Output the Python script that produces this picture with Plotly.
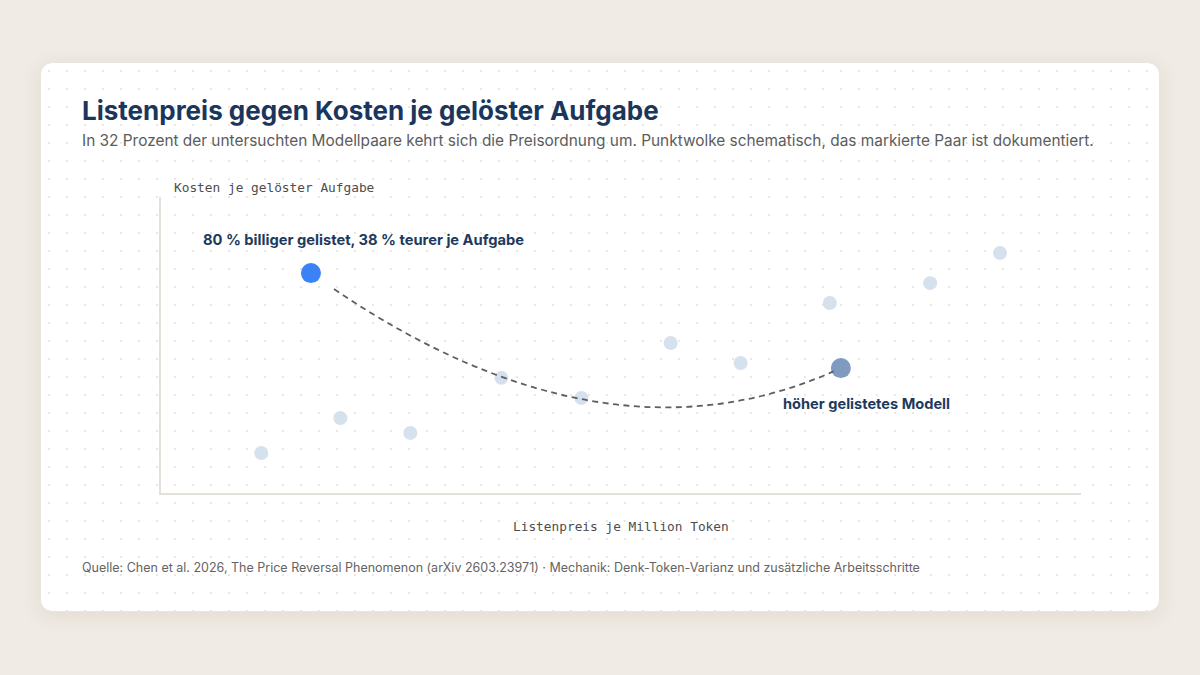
import base64
import plotly.graph_objects as go

# Punktwolke (schematisch): Listenpreis vs. Kosten je gelöster Aufgabe, 0..100 skaliert
price = [10.9, 19.5, 27.1, 37.0, 45.7, 55.4, 63.0, 72.7, 83.6, 91.2]
cost = [13.5, 25.3, 20.3, 38.9, 32.1, 50.7, 43.9, 64.2, 70.9, 81.1]

# dokumentiertes Paar: billiger gelistet / höher gelistet
pair_price = [16.3, 73.9]
pair_cost = [74.3, 42.2]
pair_colors = ["#3b82f6", "#7f9cc0"]
pair_labels = ["80 % billiger gelistet, 38 % teurer je Aufgabe", "höher gelistetes Modell"]

title = "Listenpreis gegen Kosten je gelöster Aufgabe"
subtitle = ("In 32 Prozent der untersuchten Modellpaare kehrt sich die Preisordnung um. "
            "Punktwolke schematisch, das markierte Paar ist dokumentiert.")
x_title = "Listenpreis je Million Token"
y_title = "Kosten je gelöster Aufgabe"
source = ("Quelle: Chen et al. 2026, The Price Reversal Phenomenon (arXiv 2603.23971) · "
          "Mechanik: Denk-Token-Varianz und zusätzliche Arbeitsschritte")

W, H = 1200, 675
L, R, T, B = 161, 1081, 197, 493   # Plotfläche in Pixeln
SANS = "Inter, 'Noto Sans', sans-serif"
MONO = "'DejaVu Sans Mono', monospace"

# Hintergrund: Seite, Karte mit Schatten, Punktraster
bg_svg = f"""<svg xmlns='http://www.w3.org/2000/svg' width='{W}' height='{H}' viewBox='0 0 {W} {H}'>
<defs>
<filter id='sh' x='-10%' y='-10%' width='120%' height='130%'>
<feDropShadow dx='0' dy='4' stdDeviation='9' flood-color='#5a4a30' flood-opacity='0.10'/>
</filter>
<pattern id='dots' x='40' y='62' width='18' height='18' patternUnits='userSpaceOnUse'>
<circle cx='9' cy='9' r='1.1' fill='#e5e2dc'/>
</pattern>
</defs>
<rect width='{W}' height='{H}' fill='#f0ebe4'/>
<rect x='40.5' y='62.5' width='1119' height='549' rx='12' fill='#ffffff' stroke='#e9e5de' filter='url(#sh)'/>
<rect x='41' y='63' width='1118' height='548' rx='12' fill='url(#dots)'/>
</svg>"""
bg_uri = "data:image/svg+xml;base64," + base64.b64encode(bg_svg.encode()).decode()

fig = go.Figure()

fig.add_trace(go.Scatter(
    x=price, y=cost, mode="markers",
    marker=dict(size=14, color="#d6e1ee"),
    hoverinfo="skip", showlegend=False,
))


# gestrichelte Verbindung als quadratische Bezierkurve, an den Enden etwas gekürzt
def blossom(p0, p1, p2, a, b):
    return ((1 - a) * (1 - b) * p0 + ((1 - a) * b + a * (1 - b)) * p1 + a * b * p2)


ctrl = (47.7, 4.4)
t0, t1 = 0.04, 0.985
pts = []
for a, b in [(t0, t0), (t0, t1), (t1, t1)]:
    pts.append((blossom(pair_price[0], ctrl[0], pair_price[1], a, b),
                blossom(pair_cost[0], ctrl[1], pair_cost[1], a, b)))
path = "M {:.3f},{:.3f} Q {:.3f},{:.3f} {:.3f},{:.3f}".format(*pts[0], *pts[1], *pts[2])
fig.add_shape(type="path", path=path, xref="x", yref="y",
              line=dict(color="#5f5f5f", width=1.8, dash="6px,4.5px"), layer="above")

fig.add_trace(go.Scatter(
    x=pair_price, y=pair_cost, mode="markers",
    marker=dict(size=20, color=pair_colors),
    hoverinfo="skip", showlegend=False,
))

# Beschriftungen am Paar
fig.add_annotation(x=pair_price[0], y=pair_cost[0], xref="x", yref="y",
                   text=f"<b>{pair_labels[0]}</b>", showarrow=False,
                   xanchor="left", yanchor="middle", xshift=-110, yshift=33,
                   font=dict(family=SANS, size=14.7, color="#1d3a5e"))
fig.add_annotation(x=pair_price[1], y=pair_cost[1], xref="x", yref="y",
                   text=f"<b>{pair_labels[1]}</b>", showarrow=False,
                   xanchor="left", yanchor="middle", xshift=-60, yshift=-36,
                   font=dict(family=SANS, size=14.6, color="#1d3a5e"))


def px(x, y):
    # Pixel -> paper-Koordinaten (relativ zur Plotfläche)
    return (x - L) / (R - L), (B - y) / (B - T)


for txt, (x, y), anchor, font in [
    (f"<b>{title}</b>", (80, 110), "left", dict(family=SANS, size=26, color="#1b365d")),
    (subtitle, (80, 140), "left", dict(family=SANS, size=15.4, color="#5c5c5c")),
    (y_title, (172, 187), "left", dict(family=MONO, size=12.8, color="#4d4d4d")),
    (x_title, (621, 526), "center", dict(family=MONO, size=12.8, color="#4d4d4d")),
    (source, (80, 567), "left", dict(family=SANS, size=12.5, color="#646464")),
]:
    xp, yp = px(x, y)
    fig.add_annotation(x=xp, y=yp, xref="paper", yref="paper", text=txt,
                       showarrow=False, xanchor=anchor, yanchor="middle", font=font)

fig.update_layout(
    width=W, height=H,
    margin=dict(l=L, r=W - R, t=T, b=H - B),
    paper_bgcolor="#f0ebe4",
    plot_bgcolor="rgba(0,0,0,0)",
    images=[dict(source=bg_uri, xref="paper", yref="paper",
                 x=-L / (R - L), y=1 + T / (B - T),
                 sizex=W / (R - L), sizey=H / (B - T), xanchor="left", yanchor="top",
                 sizing="stretch", layer="below")],
    xaxis=dict(range=[0, 100], showgrid=False, zeroline=False, showticklabels=False,
               ticks="", showline=True, linecolor="#e4e1db", linewidth=1.5, fixedrange=True),
    yaxis=dict(range=[0, 100], showgrid=False, zeroline=False, showticklabels=False,
               ticks="", showline=True, linecolor="#e4e1db", linewidth=1.5, fixedrange=True),
    showlegend=False,
)

fig.write_html("out.html", config={"displayModeBar": False},
               post_script="document.body.style.margin='0';document.body.style.background='#f0ebe4';")
